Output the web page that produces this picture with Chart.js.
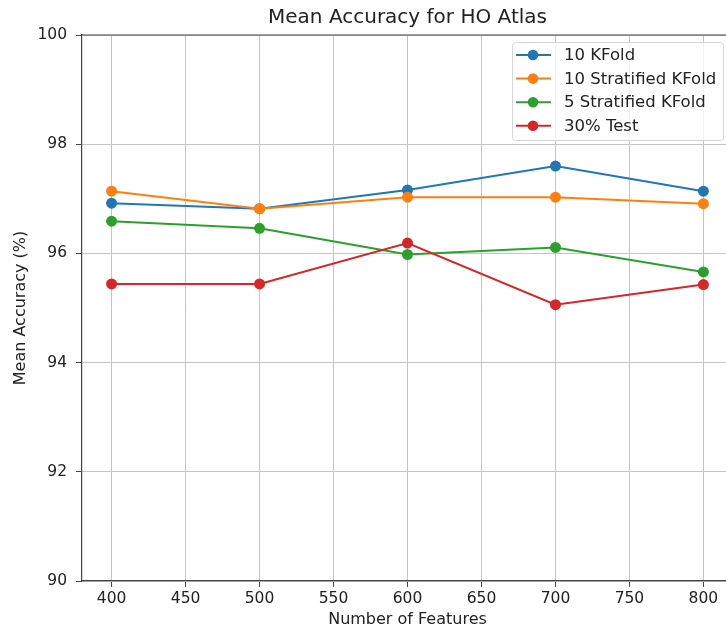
<!DOCTYPE html>
<html>
<head>
<meta charset="utf-8">
<script src="https://cdn.jsdelivr.net/npm/chart.js@4/dist/chart.umd.min.js"></script>
<style>
  html, body { margin: 0; padding: 0; background: #fff; overflow: hidden; }
  #wrap { width: 742px; height: 629px; }
</style>
</head>
<body>
<div id="wrap"><canvas id="chart" width="742" height="629"></canvas></div>
<script>
// values
var features = [400, 500, 600, 700, 800];
var xTicks = [400, 450, 500, 550, 600, 650, 700, 750, 800];
var kfold10 = [96.92, 96.82, 97.16, 97.60, 97.14];
var stratified10 = [97.14, 96.82, 97.03, 97.03, 96.91];
var stratified5 = [96.59, 96.46, 95.98, 96.11, 95.66];
var test30 = [95.44, 95.44, 96.19, 95.06, 95.43];

var seriesNames = ['10 KFold', '10 Stratified KFold', '5 Stratified KFold', '30% Test'];
var seriesColors = ['#1f77b4', '#ff7f0e', '#2ca02c', '#d62728'];
var seriesValues = [kfold10, stratified10, stratified5, test30];

var FONT = '"DejaVu Sans", sans-serif';

var datasets = seriesValues.map(function (vals, i) {
    return {
        label: seriesNames[i],
        data: vals.map(function (v, j) { return {x: features[j], y: v}; }),
        borderColor: seriesColors[i],
        backgroundColor: seriesColors[i],
        pointBackgroundColor: seriesColors[i],
        pointBorderWidth: 0,
        pointRadius: 5.5,
        borderWidth: 2,
        tension: 0,
        order: seriesValues.length - i
    };
});

// title, top spine and the matplotlib style legend box
var decorPlugin = {
    id: 'decor',
    afterDraw: function (chart) {
        var ctx = chart.ctx;
        var a = chart.chartArea;
        ctx.save();
        // top and right spines
        ctx.strokeStyle = '#444';
        ctx.lineWidth = 1.2;
        ctx.beginPath();
        ctx.moveTo(a.left, a.top);
        ctx.lineTo(a.right, a.top);
        ctx.lineTo(a.right, a.bottom);
        ctx.stroke();

        // title
        ctx.fillStyle = '#222';
        ctx.font = '20px ' + FONT;
        ctx.textAlign = 'center';
        ctx.textBaseline = 'middle';
        ctx.fillText('Mean Accuracy for HO Atlas', (a.left + a.right) / 2, 17.5);

        // legend
        var boxW = 211, boxH = 98;
        var bx = a.right - 10 - boxW, by = a.top + 7;
        ctx.fillStyle = 'rgba(255,255,255,0.8)';
        ctx.strokeStyle = '#d6d6d6';
        ctx.lineWidth = 1;
        ctx.beginPath();
        ctx.roundRect(bx + 0.5, by + 0.5, boxW, boxH, 3);
        ctx.fill();
        ctx.stroke();
        ctx.font = '16.5px ' + FONT;
        ctx.textAlign = 'left';
        chart.data.datasets.forEach(function (ds, i) {
            var ry = by + 13 + i * 23.6;
            ctx.strokeStyle = ds.borderColor;
            ctx.lineWidth = 2;
            ctx.beginPath();
            ctx.moveTo(bx + 4, ry);
            ctx.lineTo(bx + 39, ry);
            ctx.stroke();
            ctx.fillStyle = ds.borderColor;
            ctx.beginPath();
            ctx.arc(bx + 21, ry, 5.3, 0, Math.PI * 2);
            ctx.fill();
            ctx.fillStyle = '#222';
            ctx.fillText(ds.label, bx + 52, ry + 1);
        });
        ctx.restore();
    }
};

new Chart(document.getElementById('chart'), {
    type: 'line',
    data: {datasets: datasets},
    options: {
        responsive: false,
        animation: false,
        layout: {padding: {top: 35, right: 9, left: 0, bottom: 0}},
        plugins: {legend: {display: false}, tooltip: {enabled: false}, title: {display: false}},
        scales: {
            x: {
                type: 'linear',
                min: 380,
                max: 820,
                afterBuildTicks: function (scale) {
                    scale.ticks = xTicks.map(function (v) { return {value: v}; });
                },
                afterFit: function (scale) { scale.height = 48; },
                grid: {color: '#c4c4c4', lineWidth: 1, tickColor: '#444', tickLength: 6, drawTicks: true},
                border: {display: true, color: '#444', width: 1.2},
                ticks: {color: '#222', font: {family: FONT, size: 15.5}, padding: 3, maxRotation: 0,
                        callback: function (v) { return v; }},
                title: {display: true, text: 'Number of Features', color: '#222',
                        font: {family: FONT, size: 16}, padding: {top: 0, bottom: 0}}
            },
            y: {
                min: 90,
                max: 100,
                afterFit: function (scale) { scale.width = 82; },
                grid: {color: '#c4c4c4', lineWidth: 1, tickColor: '#444', tickLength: 6, drawTicks: true},
                border: {display: true, color: '#444', width: 1.2},
                ticks: {stepSize: 2, color: '#222', font: {family: FONT, size: 15.5}, padding: 9},
                title: {display: true, text: 'Mean Accuracy (%)', color: '#222',
                        font: {family: FONT, size: 16}, padding: {top: 11.5, bottom: 0}}
            }
        }
    },
    plugins: [decorPlugin]
});
</script>
</body>
</html>
